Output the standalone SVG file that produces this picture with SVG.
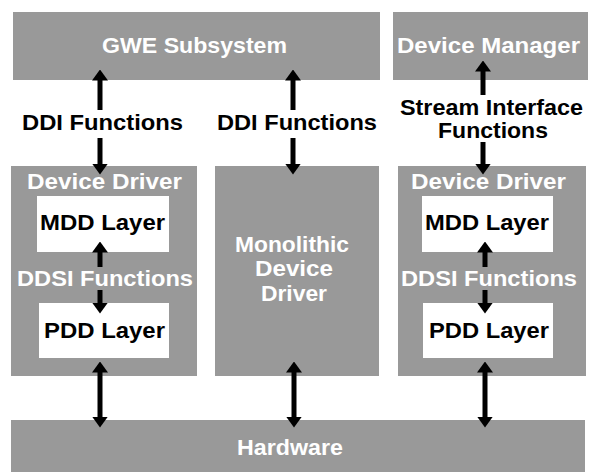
<svg xmlns="http://www.w3.org/2000/svg" width="589" height="472" viewBox="0 0 589 472">
<defs>
<style>
.box{fill:#999999}
.inner{fill:#ffffff}
.w{fill:#ffffff;font-family:"Liberation Sans",Arial,sans-serif;font-weight:bold;font-size:22px;text-anchor:middle}
.b{fill:#000000;font-family:"Liberation Sans",Arial,sans-serif;font-weight:bold;font-size:22px;text-anchor:middle}
.ln{stroke:#000000;stroke-width:5;fill:none}
</style>
<marker id="ah" viewBox="0 0 11 16" markerUnits="userSpaceOnUse" markerWidth="11" markerHeight="16" refX="0.5" refY="8" orient="auto-start-reverse">
<path d="M0,0 L11,8 L0,16 z" fill="#000000"/>
</marker>
</defs>
<rect width="589" height="472" fill="#ffffff"/>

<g id="gwe">
<rect class="box" x="13" y="12" width="367" height="68"/>
<text class="w" x="194.5" y="53" textLength="185" lengthAdjust="spacingAndGlyphs">GWE Subsystem</text>
</g>
<g id="devmgr">
<rect class="box" x="393" y="12" width="195" height="68"/>
<text class="w" x="488.5" y="53" textLength="183" lengthAdjust="spacingAndGlyphs">Device Manager</text>
</g>

<g id="dd-left">
<rect class="box" x="11" y="166" width="186" height="210"/>
<text class="w" x="104.5" y="189" textLength="155" lengthAdjust="spacingAndGlyphs">Device Driver</text>
<text class="w" x="105" y="286" textLength="176" lengthAdjust="spacingAndGlyphs">DDSI Functions</text>
</g>
<g id="mdd-left">
<rect class="inner" x="37" y="196" width="132" height="56"/>
<text class="b" x="102.5" y="230" textLength="125" lengthAdjust="spacingAndGlyphs">MDD Layer</text>
</g>
<g id="pdd-left">
<rect class="inner" x="39" y="303" width="130" height="55"/>
<text class="b" x="104.5" y="338" textLength="121" lengthAdjust="spacingAndGlyphs">PDD Layer</text>
</g>

<g id="monolithic">
<rect class="box" x="215" y="166" width="164" height="210"/>
<text class="w" x="292" y="252" textLength="114" lengthAdjust="spacingAndGlyphs">Monolithic</text>
<text class="w" x="294" y="276" textLength="78" lengthAdjust="spacingAndGlyphs">Device</text>
<text class="w" x="294" y="301" textLength="66" lengthAdjust="spacingAndGlyphs">Driver</text>
</g>

<g id="dd-right">
<rect class="box" x="398" y="166" width="188" height="210"/>
<text class="w" x="488.5" y="189" textLength="155" lengthAdjust="spacingAndGlyphs">Device Driver</text>
<text class="w" x="489" y="286" textLength="176" lengthAdjust="spacingAndGlyphs">DDSI Functions</text>
</g>
<g id="mdd-right">
<rect class="inner" x="422" y="196" width="131" height="56"/>
<text class="b" x="487" y="230" textLength="124" lengthAdjust="spacingAndGlyphs">MDD Layer</text>
</g>
<g id="pdd-right">
<rect class="inner" x="423" y="303" width="130" height="55"/>
<text class="b" x="489" y="338" textLength="120" lengthAdjust="spacingAndGlyphs">PDD Layer</text>
</g>

<g id="hardware">
<rect class="box" x="11" y="420" width="574" height="52"/>
<text class="w" x="290" y="455" textLength="106" lengthAdjust="spacingAndGlyphs">Hardware</text>
</g>

<g id="connectors">
<line class="ln" x1="100" y1="110" x2="100" y2="80" marker-end="url(#ah)"/>
<line class="ln" x1="100" y1="138" x2="100" y2="164" marker-end="url(#ah)"/>
<text class="b" x="102.5" y="130" textLength="161" lengthAdjust="spacingAndGlyphs">DDI Functions</text>
<line class="ln" x1="293" y1="110" x2="293" y2="80" marker-end="url(#ah)"/>
<line class="ln" x1="293" y1="138" x2="293" y2="164" marker-end="url(#ah)"/>
<text class="b" x="297" y="130" textLength="160" lengthAdjust="spacingAndGlyphs">DDI Functions</text>
<line class="ln" x1="483" y1="95" x2="483" y2="71" marker-end="url(#ah)"/>
<line class="ln" x1="483" y1="142" x2="483" y2="164" marker-end="url(#ah)"/>
<text class="b" x="491.5" y="115" textLength="183" lengthAdjust="spacingAndGlyphs">Stream Interface</text>
<text class="b" x="493" y="138" textLength="110" lengthAdjust="spacingAndGlyphs">Functions</text>
<line class="ln" x1="100" y1="267" x2="100" y2="252" marker-end="url(#ah)"/>
<line class="ln" x1="100" y1="290" x2="100" y2="303" marker-end="url(#ah)"/>
<line class="ln" x1="485" y1="267" x2="485" y2="252" marker-end="url(#ah)"/>
<line class="ln" x1="485" y1="290" x2="485" y2="303" marker-end="url(#ah)"/>
<line class="ln" x1="100" y1="372" x2="100" y2="417" marker-start="url(#ah)" marker-end="url(#ah)"/>
<line class="ln" x1="294" y1="372" x2="294" y2="417" marker-start="url(#ah)" marker-end="url(#ah)"/>
<line class="ln" x1="485" y1="372" x2="485" y2="417" marker-start="url(#ah)" marker-end="url(#ah)"/>
</g>
</svg>
